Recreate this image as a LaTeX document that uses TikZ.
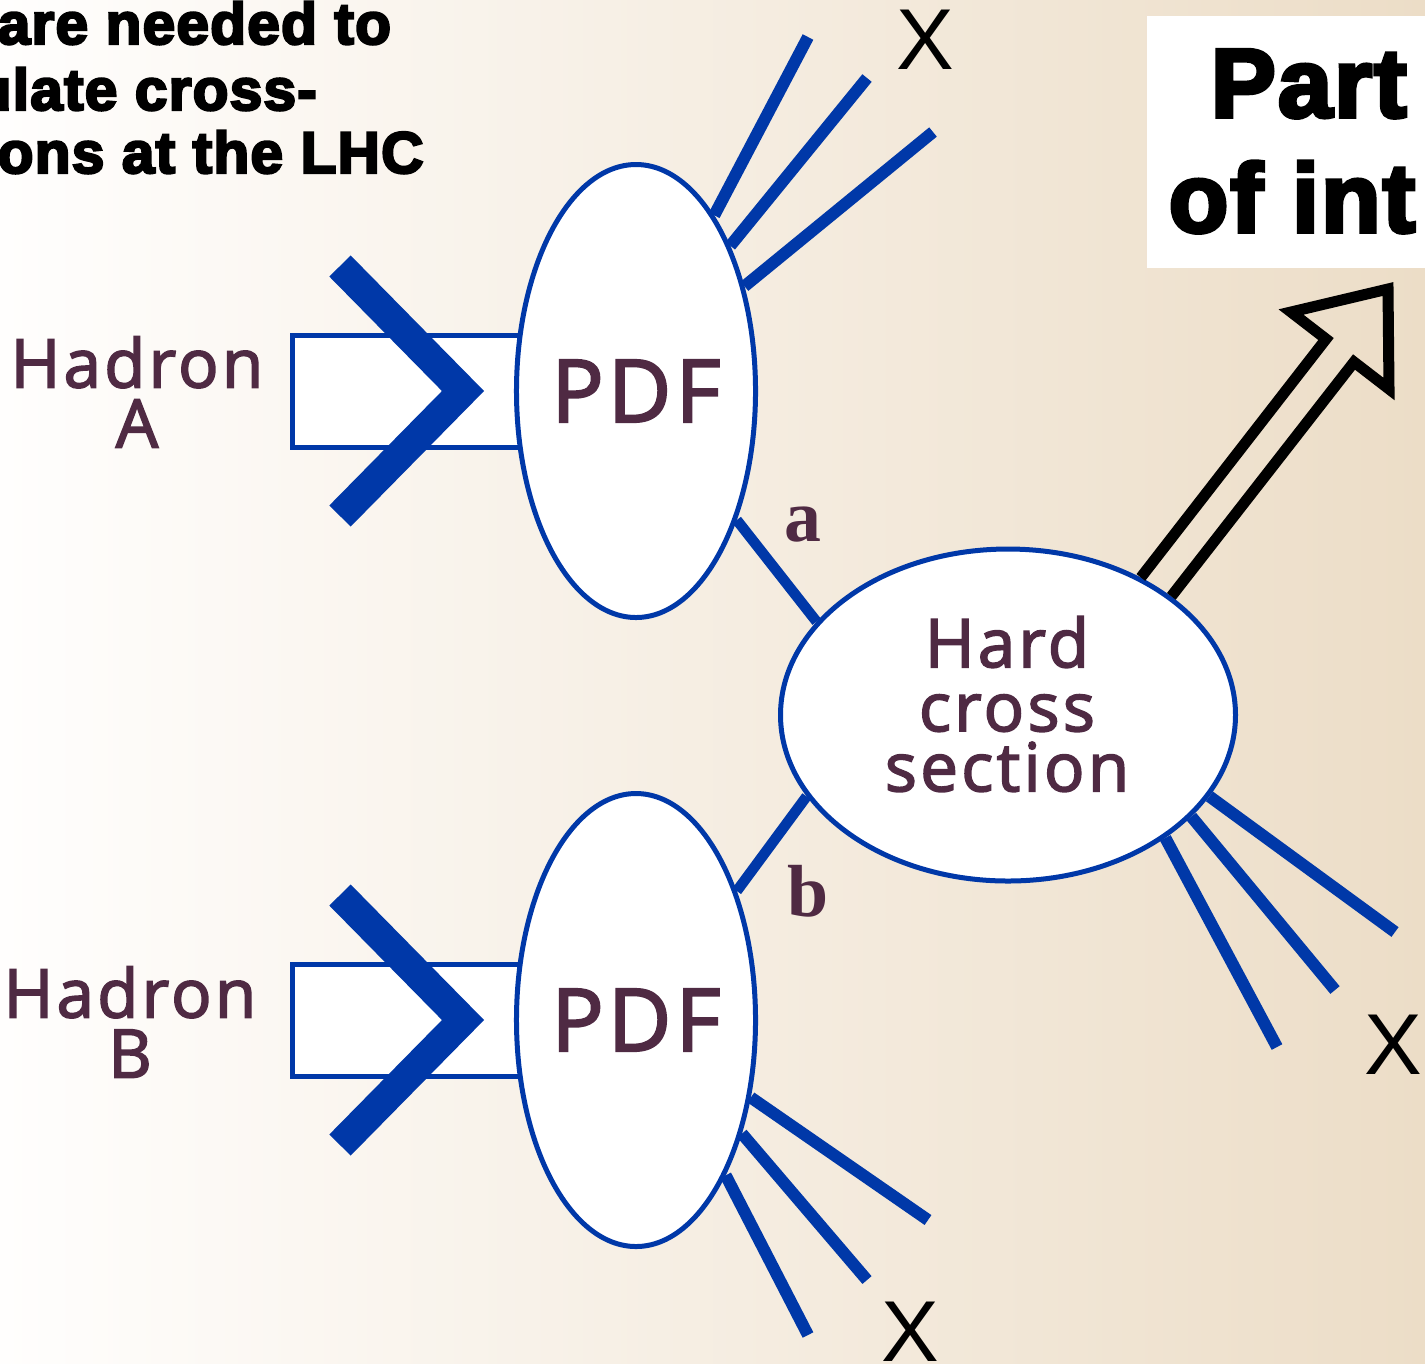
\documentclass[tikz,border=0pt]{standalone}
\usepackage{fontspec}
\usetikzlibrary{shapes.geometric}
\newfontfamily\lblfont[LetterSpace=5,FakeBold=2.5]{Open Sans}
\newfontfamily\headfont[LetterSpace=2,BoldFeatures={FakeBold=4}]{Liberation Sans}
\newfontfamily\xfont{Liberation Sans}
\newfontfamily\partonfont{Liberation Serif}
\definecolor{pdfblue}{HTML}{0038A8}
\definecolor{plum}{HTML}{4F2A43}
\definecolor{bgleft}{HTML}{FFFEFD}
\definecolor{bgright}{HTML}{ECDDC7}

\begin{document}
\begin{tikzpicture}[x=0.1mm, y=-0.1mm, line join=miter]
\tikzstyle{pdfblob} = [draw=pdfblue, fill=white, ellipse, line width=0.5mm, minimum width=22.3mm, minimum height=45.3mm, inner sep=0pt, text=plum, font={\lblfont\fontsize{24.7}{26}\selectfont}]
\tikzstyle{hardblob} = [pdfblob, minimum width=45.5mm, minimum height=33.2mm]
\tikzstyle{beam} = [draw=pdfblue, fill=white, line width=0.5mm]
\tikzstyle{chev} = [draw=pdfblue, line width=3mm]
\tikzstyle{jet} = [draw=pdfblue, line width=1.2mm]
\tikzstyle{parton} = [draw=pdfblue, line width=1.05mm]
\tikzstyle{lbl} = [text=plum, inner sep=0pt, align=center, font={\lblfont\fontsize{19.1}{17.1}\selectfont}]
\tikzstyle{xlbl} = [inner sep=0pt, font={\xfont\fontsize{24.6}{26}\selectfont}]
\tikzstyle{plbl} = [text=plum, inner sep=0pt, font={\partonfont\bfseries\fontsize{21}{22}\selectfont}]
\tikzstyle{head} = [inner sep=0pt, anchor=base west, font={\headfont\bfseries\fontsize{16.7}{18}\selectfont}]
\tikzstyle{bighead} = [head, font={\headfont\bfseries\fontsize{27.8}{30}\selectfont}]

    \useasboundingbox (0,0) rectangle (1425,1363);
    \clip (0,0) rectangle (1425,1363);
    \shade[left color=bgleft, right color=bgright] (0,0) rectangle (1425,1363);

    % incoming hadrons
    \draw[beam] (292,335) rectangle (560,447);
    \draw[beam] (292,964) rectangle (560,1076);

    \node[pdfblob] (pdfA) at (636,391) {PDF};
    \node[pdfblob] (pdfB) at (636,1020) {PDF};
    \node[hardblob] (hard) at (1008,715) {};

    \draw[chev] (340,266) -- (463,391) -- (340,516);
    \draw[chev] (340,895) -- (463,1020) -- (340,1145);

    % partons into the hard part
    \draw[parton] (pdfA.-52.4) -- (hard.154.1);
    \draw[parton] (pdfB.52.6) -- (hard.202.2);

    % remnants X
    \coordinate (jA1) at (808,37);
    \coordinate (jA2) at (867,78);
    \coordinate (jA3) at (933,132);
    \coordinate (jB1) at (928,1220);
    \coordinate (jB2) at (867,1280);
    \coordinate (jB3) at (808,1335);
    \coordinate (jH1) at (1395,932);
    \coordinate (jH2) at (1335,990);
    \coordinate (jH3) at (1277,1047);
    \draw[jet] (pdfA.66.6) -- (jA1);
    \draw[jet] (pdfA.57.2) -- (jA2);
    \draw[jet] (pdfA.44.2) -- (jA3);
    \draw[jet] (pdfB.-34.8) -- (jB1);
    \draw[jet] (pdfB.-47.7) -- (jB2);
    \draw[jet] (pdfB.-60.2) -- (jB3);
    \draw[jet] (hard.-22.6) -- (jH1);
    \draw[jet] (hard.-29.6) -- (jH2);
    \draw[jet] (hard.-38.6) -- (jH3);

    % outlined arrow to the particle of interest
    \coordinate (notchL) at (1326,339);
    \coordinate (cornerL) at (1291,312);
    \coordinate (tip) at (1388,289);
    \coordinate (cornerR) at (1389,389);
    \coordinate (notchR) at (1354,362);
    \draw[black, line width=1.1mm] (hard.46.1) -- (notchL) -- (cornerL) -- (tip) -- (cornerR) -- (notchR) -- (hard.36);

    % labels
    \node[lbl] (hadA) at (137,392) {Hadron\\A};
    \node[lbl] (hadB) at (130,1022) {Hadron\\B};
    \node[lbl] (hardtxt) at (1007,704) {Hard\\[1.1pt]cross\\section};
    \node[plbl] (la) at (803,525) {a};
    \node[plbl] (lb) at (808,891) {b};
    \node[xlbl] (xA) at (925,40) {X};
    \node[xlbl] (xB) at (910,1332) {X};
    \node[xlbl] (xH) at (1393,1045) {X};

    \node[head] (title1) at (-3,44) {are needed to};
    \node[head] (title2) at (-25,110) {ulate cross-};
    \node[head] (title3) at (-3,173) {ons at the LHC};

    \fill[white] (1147,16) rectangle (1440,268);
    \node[bighead] (part1) at (1210,117) {Part};
    \node[bighead] (part2) at (1168,232) {of int};
\end{tikzpicture}
\end{document}
